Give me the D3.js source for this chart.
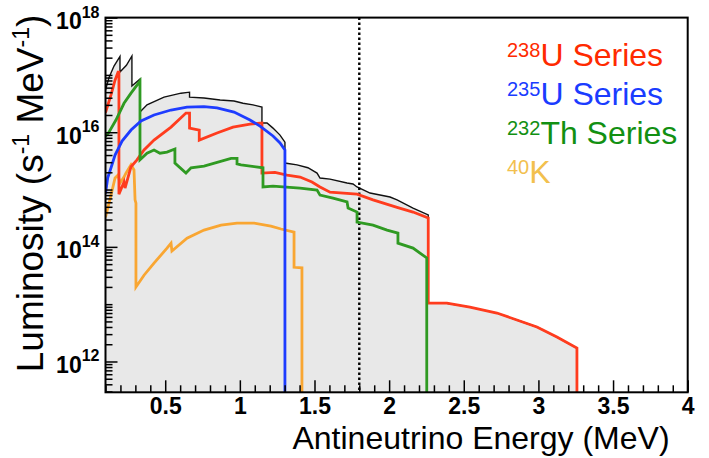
<!DOCTYPE html>
<html>
<head>
<meta charset="utf-8">
<script src="https://cdn.jsdelivr.net/npm/d3@7"></script>
<style>
  body { margin: 0; background: #fff; }
  svg { display: block; font-family: "Liberation Sans", Arial, Helvetica, sans-serif; }
</style>
</head>
<body>
<svg id="chart" width="709" height="458"></svg>
<script>
// ---------------- data (energy in MeV, luminosity in s^-1 MeV^-1) ----------------
const xMajorTicks = [0.5, 1, 1.5, 2, 2.5, 3, 3.5, 4];
const xTickLabels = ["0.5", "1", "1.5", "2", "2.5", "3", "3.5", "4"];
const yLabelExponents = [12, 14, 16, 18];
const markerEnergy = 1.8;

const legendSup  = ["238", "235", "232", "40"];
const legendText = ["U Series", "U Series", "Th Series", "K"];

// 238U series (red)
const u238E = [0.100, 0.137, 0.164, 0.184, 0.190, 0.190, 0.224, 0.231, 0.271, 0.311, 0.358, 0.425, 0.539, 0.639, 0.663, 0.663, 0.728, 0.728, 0.847, 0.954, 1.068, 1.148, 1.148, 1.235, 1.316, 1.403, 1.483, 1.537, 1.604, 1.785, 1.892, 2.053, 2.160, 2.262, 2.262, 2.387, 2.541, 2.722, 2.856, 2.990, 3.124, 3.258, 3.258];
const u238V = [2.2e16, 4.5e16, 8.1e16, 1.12e17, 1.12e17, 8.3e14, 1.35e15, 1.06e15, 2.5e15, 3.3e15, 4.9e15, 7.3e15, 1.23e16, 2.16e16, 2.16e16, 1.18e16, 1.09e16, 7.3e15, 9.7e15, 1.23e16, 1.39e16, 1.45e16, 1.94e15, 2.0e15, 1.79e15, 1.65e15, 1.35e15, 1.11e15, 9.0e14, 8.3e14, 6.6e14, 4.9e14, 4.05e14, 3.2e14, 1.04e13, 1.04e13, 8.9e12, 7.0e12, 5.3e12, 4.0e12, 2.67e12, 1.71e12, 0];

// 235U series (blue)
const u235E = [0.100, 0.115, 0.137, 0.164, 0.211, 0.271, 0.338, 0.425, 0.539, 0.646, 0.760, 0.847, 0.961, 1.068, 1.135, 1.222, 1.269, 1.302, 1.302];
const u235V = [8.5e14, 1.6e15, 2.4e15, 4.0e15, 7.0e15, 1.09e16, 1.57e16, 2.0e16, 2.44e16, 2.75e16, 2.8e16, 2.65e16, 2.25e16, 1.63e16, 1.28e16, 8.6e15, 6.5e15, 4.9e15, 0];

// 232Th series (green)
const th232E = [0.100, 0.123, 0.170, 0.224, 0.271, 0.331, 0.331, 0.378, 0.425, 0.465, 0.512, 0.565, 0.565, 0.639, 0.673, 0.760, 0.941, 0.981, 0.981, 1.008, 1.155, 1.155, 1.222, 1.289, 1.403, 1.517, 1.537, 1.624, 1.718, 1.725, 1.785, 1.785, 1.892, 1.986, 2.059, 2.059, 2.160, 2.252, 2.252];
const th232V = [8.5e15, 1.0e16, 1.63e16, 3.2e16, 4.8e16, 7.8e16, 3.3e15, 4.3e15, 4.9e15, 4.3e15, 4.5e15, 5.1e15, 2.9e15, 1.94e15, 2.4e15, 2.57e15, 3.5e15, 3.5e15, 2.8e15, 2.7e15, 2.4e15, 1.11e15, 1.15e15, 1.11e15, 1.06e15, 9.8e14, 8.0e14, 7.1e14, 6.1e14, 4.75e14, 4.05e14, 2.7e14, 2.4e14, 1.96e14, 1.74e14, 1.16e14, 9.5e13, 6.4e13, 0];

// 40K (orange)
const k40E = [0.100, 0.137, 0.164, 0.184, 0.197, 0.224, 0.237, 0.271, 0.291, 0.298, 0.304, 0.304, 0.358, 0.425, 0.512, 0.539, 0.545, 0.646, 0.760, 0.874, 0.981, 1.095, 1.208, 1.276, 1.363, 1.363, 1.416, 1.416];
const k40V = [3.3e14, 8.0e14, 1.59e15, 1.79e15, 1.30e15, 1.65e15, 1.94e15, 2.7e15, 2.2e15, 6.6e14, 5.8e14, 2.0e13, 3.2e13, 5.2e13, 9.5e13, 1.16e14, 8.45e13, 1.42e14, 1.96e14, 2.4e14, 2.6e14, 2.6e14, 2.3e14, 2.05e14, 1.81e14, 4.4e13, 4.3e13, 0];

// total (black outline, grey fill) up to the 2.26 MeV edge; beyond it the total is the 238U tail
const totalE = [0.100, 0.123, 0.157, 0.190, 0.197, 0.197, 0.240, 0.277, 0.277, 0.331, 0.331, 0.378, 0.492, 0.606, 0.663, 0.663, 0.760, 0.868, 0.961, 1.021, 1.088, 1.148, 1.148, 1.182, 1.222, 1.269, 1.302, 1.302, 1.383, 1.456, 1.517, 1.537, 1.604, 1.718, 1.758, 1.785, 1.872, 2.006, 2.053, 2.160, 2.262];
const totalV = [5.45e16, 8.9e16, 1.43e17, 1.97e17, 2.1e17, 1.12e17, 1.47e17, 2.14e17, 6.4e16, 8.5e16, 2.25e16, 3.0e16, 4.1e16, 4.8e16, 5.0e16, 4.1e16, 3.95e16, 3.65e16, 3.5e16, 3.2e16, 3.0e16, 2.75e16, 1.45e16, 1.45e16, 1.18e16, 8.9e15, 6.7e15, 2.9e15, 2.7e15, 2.4e15, 1.94e15, 1.59e15, 1.52e15, 1.30e15, 1.25e15, 1.11e15, 8.7e14, 7.4e14, 6.6e14, 4.75e14, 3.6e14];

// ---------------- drawing ----------------
const svg = d3.select("#chart");
const X0 = 105.5, X1 = 687.7, Y0 = 17.6, Y1 = 392.3;
const yMin = 2.9e11, yMax = 1e18;

const x = d3.scaleLinear().domain([0.1, 4]).range([X0, X1]);
const y = d3.scaleLog().domain([yMin, yMax]).range([Y1, Y0]);
const yv = v => v > 0 ? y(Math.max(v, yMin)) : Y1;

const zip = (E, V) => E.map((e, i) => [e, V[i]]);
const u238 = zip(u238E, u238V);
const u235 = zip(u235E, u235V);
const th232 = zip(th232E, th232V);
const k40 = zip(k40E, k40V);
const edgeIdx = u238E.indexOf(2.262);
const total = zip(totalE, totalV).concat(u238.filter((d, i) => i > edgeIdx));

const line = d3.line().x(d => x(d[0])).y(d => yv(d[1]));
const area = d3.area().x(d => x(d[0])).y0(Y1).y1(d => yv(d[1]));

svg.append("clipPath").attr("id", "plotclip")
  .append("rect").attr("x", X0).attr("y", Y0).attr("width", X1 - X0).attr("height", Y1 - Y0);

const plot = svg.append("g").attr("clip-path", "url(#plotclip)");

plot.append("path").datum(total).attr("d", area).attr("fill", "#e8e8e8");
plot.append("path").datum(total).attr("d", line)
  .attr("fill", "none").attr("stroke", "#111").attr("stroke-width", 1.4);

plot.append("line")
  .attr("x1", x(markerEnergy)).attr("x2", x(markerEnergy))
  .attr("y1", Y0).attr("y2", Y1)
  .attr("stroke", "#000").attr("stroke-width", 2.4).attr("stroke-dasharray", "2.4,2.6");

const series = [
  { data: k40, color: "#f9a632" },
  { data: u238, color: "#ff3c1e" },
  { data: th232, color: "#2f9a22" },
  { data: u235, color: "#1e3cff" }
];
series.forEach(s => {
  plot.append("path").datum(s.data).attr("d", line)
    .attr("fill", "none").attr("stroke", s.color).attr("stroke-width", 2.8)
    .attr("stroke-linejoin", "miter");
});

// ---------- axes ----------
const xMinor = d3.range(1, 41).map(i => i / 10).filter(v => !xMajorTicks.some(m => Math.abs(m - v) < 1e-9));
const gxMinor = svg.append("g").attr("transform", `translate(0,${Y1})`)
  .call(d3.axisBottom(x).tickValues(xMinor).tickSize(-7).tickFormat(""));
const gxMajor = svg.append("g").attr("transform", `translate(0,${Y1})`)
  .call(d3.axisBottom(x).tickValues(xMajorTicks).tickSize(-12).tickPadding(5.5)
    .tickFormat((d, i) => xTickLabels[i]));
[gxMinor, gxMajor].forEach(g => {
  g.select(".domain").remove();
  g.selectAll(".tick line").attr("stroke", "#000").attr("stroke-width", 1.5);
});
gxMajor.selectAll(".tick text")
  .attr("font-size", 23).attr("font-weight", "bold").attr("fill", "#000")
  .attr("font-family", "'Liberation Sans', Arial, sans-serif");

const yMinorVals = [];
for (let e = 11; e <= 17; e++) for (let m = 1; m <= 9; m++) {
  const v = m * Math.pow(10, e);
  if (v >= yMin && v <= yMax && !(m === 1 && yLabelExponents.includes(e))) yMinorVals.push(v);
}
const yMajorVals = yLabelExponents.map(e => Math.pow(10, e));
const gyMinor = svg.append("g").attr("transform", `translate(${X0},0)`)
  .call(d3.axisLeft(y).tickValues(yMinorVals).tickSize(-7).tickFormat(""));
const gyMajor = svg.append("g").attr("transform", `translate(${X0},0)`)
  .call(d3.axisLeft(y).tickValues(yMajorVals).tickSize(-12).tickFormat(""));
[gyMinor, gyMajor].forEach(g => {
  g.select(".domain").remove();
  g.selectAll(".tick line").attr("stroke", "#000").attr("stroke-width", 1.5);
});
gyMajor.selectAll(".tick").each(function (d) {
  const t = d3.select(this).append("text")
    .attr("x", -6).attr("y", 11).attr("text-anchor", "end").attr("fill", "#000")
    .attr("font-weight", "bold").attr("font-family", "'Liberation Sans', Arial, sans-serif");
  t.append("tspan").attr("font-size", 23).text("10");
  t.append("tspan").attr("font-size", 16).attr("dy", -11.5).text(String(Math.round(Math.log10(d))));
});

// frame
svg.append("rect").attr("x", X0).attr("y", Y0).attr("width", X1 - X0).attr("height", Y1 - Y0)
  .attr("fill", "none").attr("stroke", "#000").attr("stroke-width", 2);

// ---------- titles ----------
svg.append("text").attr("x", 481).attr("y", 449).attr("text-anchor", "middle")
  .attr("font-size", 32).attr("fill", "#000").text("Antineutrino Energy (MeV)");

const yt = svg.append("text").attr("transform", "translate(43,193.5) rotate(-90)")
  .attr("text-anchor", "middle").attr("font-size", 37).attr("fill", "#000");
yt.append("tspan").text("Luminosity (s");
yt.append("tspan").attr("font-size", 23).attr("dy", -14).text("-1");
yt.append("tspan").attr("dy", 14).text(" MeV");
yt.append("tspan").attr("font-size", 23).attr("dy", -14).text("-1");
yt.append("tspan").attr("dy", 14).text(")");

// ---------- legend ----------
const legendColors = ["#ff2a00", "#1a3cff", "#129012", "#f2c04e"];
const legendBaselines = [66, 104.5, 144, 183];
legendSup.forEach((s, i) => {
  const t = svg.append("text").attr("x", 507).attr("y", legendBaselines[i]).attr("fill", legendColors[i]);
  t.append("tspan").attr("font-size", 20).attr("dy", -9).text(s);
  t.append("tspan").attr("font-size", 32).attr("dy", 9).text(legendText[i]);
});
</script>
</body>
</html>
